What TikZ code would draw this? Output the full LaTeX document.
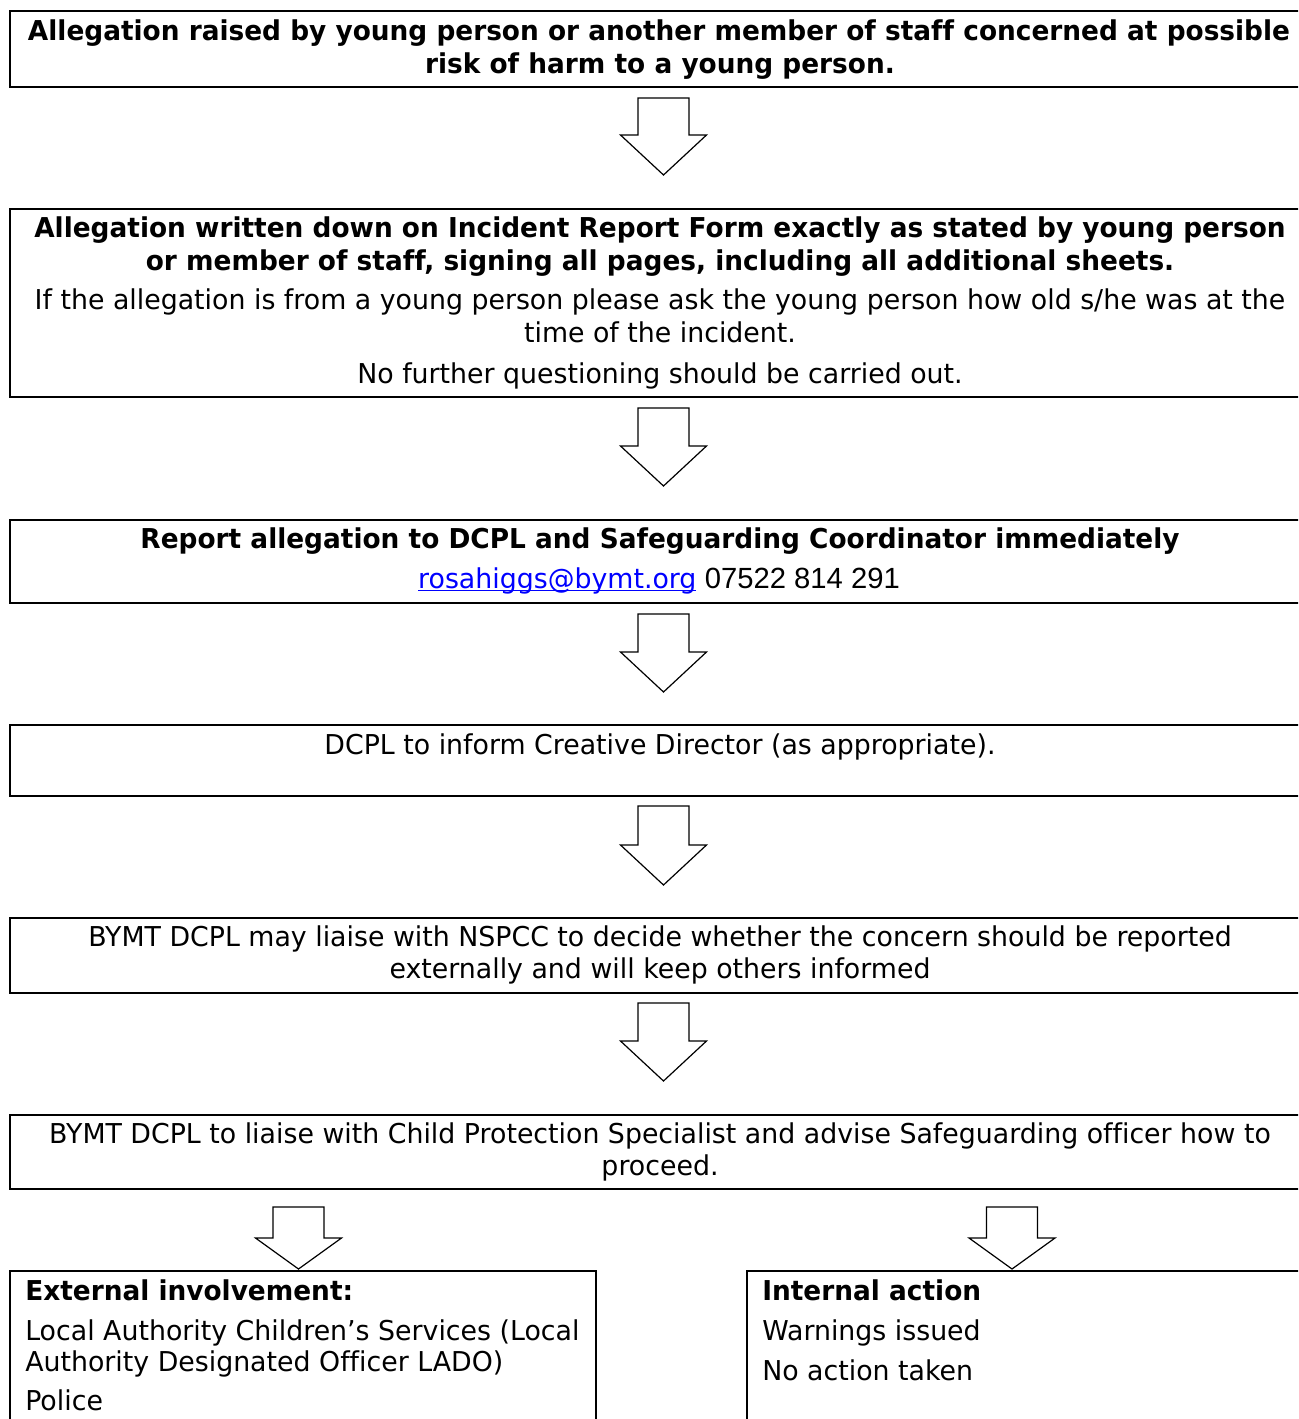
\documentclass[tikz,border=0pt]{standalone}
\usepackage{fontspec}
\setmainfont{DejaVu Sans}[Ligatures=NoCommon,FakeStretch=0.98,BoldFeatures={FakeStretch=0.965}]
\newfontfamily\arialfont{Liberation Sans}
\usetikzlibrary{calc,fit}
\definecolor{linkblue}{RGB}{0,0,255}
\newcommand\ulink[1]{\setbox0\hbox{#1}\rlap{\rule[-0.12em]{\wd0}{0.055em}}\box0}
\newcommand\blockarrow[3]{%
  \draw[barrowline] let \p1=#1, \p2=#2 in
    (\x2-32.25pt,\y2+#3) -- (\x2-19.125pt,\y2+#3) -- (\x2-19.125pt,\y1)
    -- (\x2+19.125pt,\y1) -- (\x2+19.125pt,\y2+#3) -- (\x2+32.25pt,\y2+#3)
    -- (\x2,\y2) -- cycle;}
\begin{document}
\begin{tikzpicture}[x=0.75pt,y=-0.75pt,
  box/.style={draw,line width=1.5pt,inner sep=0pt},
  barrowline/.style={draw,fill=white,line width=0.9pt,line join=miter},
  ctext/.style={anchor=base,inner sep=0pt,font=\fontsize{20.5}{24.6}\selectfont},
  ltext/.style={anchor=base west,inner sep=0pt,font=\fontsize{20.5}{24.6}\selectfont},
  btext/.style={ctext,font=\fontsize{20.5}{24.6}\selectfont\bfseries},
  bltext/.style={ltext,font=\fontsize{20.5}{24.6}\selectfont\bfseries}]
\clip (0,0) rectangle (1298,1419);
\fill[white] (0,0) rectangle (1298,1419);
% boxes
\node[box,fit={(10,11) (1310,87)}] (b1) {};
\node[box,fit={(10,209) (1310,397)}] (b2) {};
\node[box,fit={(10,520) (1310,603)}] (b3) {};
\node[box,fit={(10,725) (1310,796)}] (b4) {};
\node[box,fit={(10,918) (1310,993)}] (b5) {};
\node[box,fit={(10,1115) (1310,1189)}] (b6) {};
\node[box,fit={(10,1271) (596,1450)}] (b7) {};
\node[box,fit={(747,1271) (1310,1450)}] (b8) {};
% texts
\node[btext] (t1a) at (659,41) {Allegation raised by young person or another member of staff concerned at possible};
\node[btext] (t1b) at (660,74) {risk of harm to a young person.};
\node[btext] (t2a) at (660,238) {Allegation written down on Incident Report Form exactly as stated by young person};
\node[btext] (t2b) at (660,271) {or member of staff, signing all pages, including all additional sheets.};
\node[ctext] (t2c) at (660,310) {If the allegation is from a young person please ask the young person how old s/he was at the};
\node[ctext] (t2d) at (660,342) {time of the incident.};
\node[ctext] (t2e) at (660,383) {No further questioning should be carried out.};
\node[btext] (t3a) at (660,548) {Report allegation to DCPL and Safeguarding Coordinator immediately};
\node[ctext] (t3b) at (659,588) {\textcolor{linkblue}{\ulink{rosahiggs@bymt.org}} {\arialfont\fontsize{21.9}{26}\selectfont 07522 814 291}};
\node[ctext] (t4a) at (660,754) {DCPL to inform Creative Director (as appropriate).};
\node[ctext] (t5a) at (660,946) {BYMT DCPL may liaise with NSPCC to decide whether the concern should be reported};
\node[ctext] (t5b) at (660,978) {externally and will keep others informed};
\node[ctext] (t6a) at (660,1143) {BYMT DCPL to liaise with Child Protection Specialist and advise Safeguarding officer how to};
\node[ctext] (t6b) at (660,1175) {proceed.};
\node[bltext] (t7a) at (25,1300) {External involvement:};
\node[ltext] (t7b) at (25,1340) {Local Authority Children’s Services (Local};
\node[ltext] (t7c) at (25,1371) {Authority Designated Officer LADO)};
\node[ltext] (t7d) at (25,1410) {Police};
\node[bltext] (t8a) at (762,1300) {Internal action};
\node[ltext] (t8b) at (762,1340) {Warnings issued};
\node[ltext] (t8c) at (762,1380) {No action taken};
% block arrows
\blockarrow{($(b1.south)+(3.5,10)$)}{($(b2.north)+(3.5,-33)$)}{30pt}
\blockarrow{($(b2.south)+(3.5,10)$)}{($(b3.north)+(3.5,-33)$)}{30pt}
\blockarrow{($(b3.south)+(3.5,10)$)}{($(b4.north)+(3.5,-32)$)}{30pt}
\blockarrow{($(b4.south)+(3.5,9)$)}{($(b5.north)+(3.5,-32)$)}{30pt}
\blockarrow{($(b5.south)+(3.5,9)$)}{($(b6.north)+(3.5,-33)$)}{30pt}
\blockarrow{($(b6.south -| b7.north)+(-4.5,17)$)}{($(b7.north)+(-4.5,-1)$)}{23.25pt}
\blockarrow{($(b6.south -| b8.north)+(-16.5,17)$)}{($(b8.north)+(-16.5,-1)$)}{23.25pt}
\end{tikzpicture}
\end{document}
